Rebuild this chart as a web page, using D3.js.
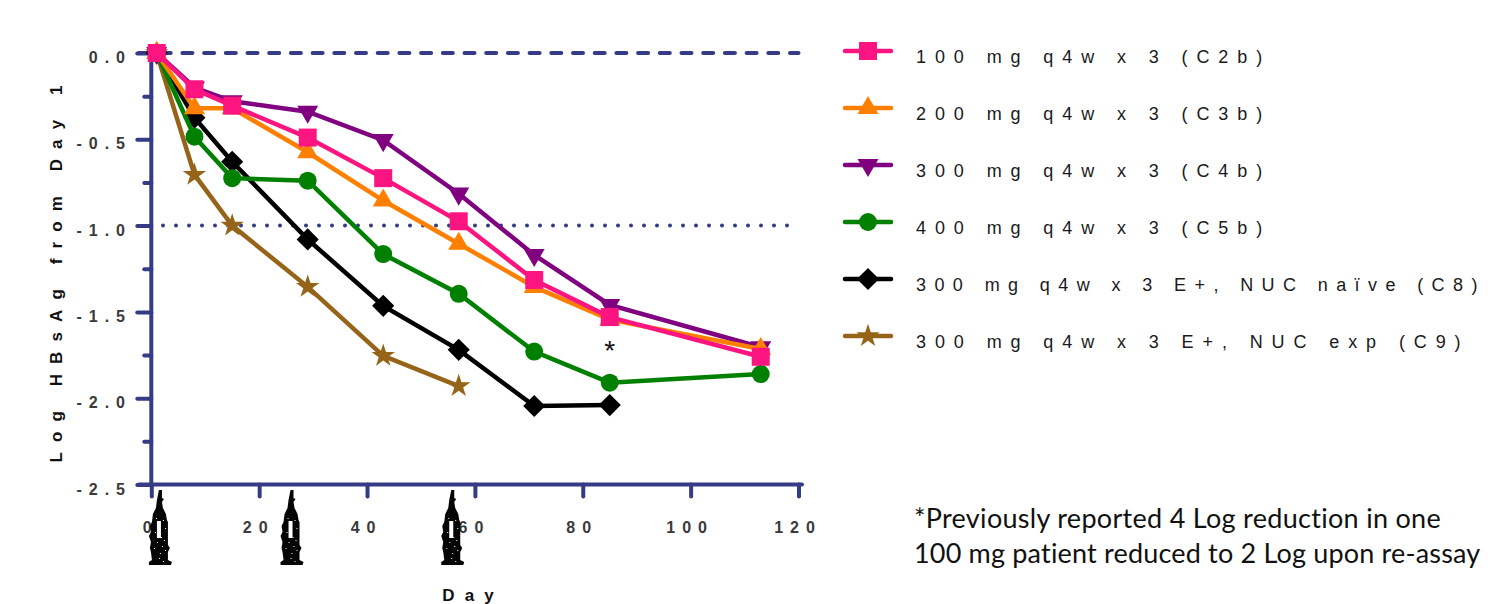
<!DOCTYPE html>
<html>
<head>
<meta charset="utf-8">
<script src="https://cdn.jsdelivr.net/npm/d3@7"></script>
<style>
  body { margin: 0; background: #fff; overflow: hidden; }
  text { font-family: "Liberation Sans", Arial, sans-serif; }
  .tick-label { font-size: 16px; font-weight: bold; fill: #3a3a3a; letter-spacing: 7px; }
  .axis-title { font-size: 17px; font-weight: bold; fill: #111; letter-spacing: 10.1px; }
  .legend-label { font-size: 18px; fill: #1a1a1a; letter-spacing: 8.9px; }
  .note { font-family: Lato, sans-serif; font-size: 27px; fill: #111; letter-spacing: 0.3px; }
</style>
</head>
<body>
<div id="chart"></div>
<script>
// values
const days = [1, 8, 15, 29, 43, 57, 71, 85, 113];
const c2b = [0, -0.21, -0.305, -0.49, -0.725, -0.975, -1.315, -1.53, -1.76];
const c3b = [0, -0.32, -0.32, -0.575, -0.855, -1.105, -1.355, -1.545, -1.715];
const c4b = [0, -0.2, -0.28, -0.34, -0.505, -0.815, -1.17, -1.46, -1.705];
const c5b = [0, -0.485, -0.725, -0.74, -1.165, -1.395, -1.73, -1.91, -1.86];
const c8 = [0, -0.375, -0.63, -1.08, -1.465, -1.72, -2.045, -2.04];
const c9 = [0, -0.705, -1.0, -1.355, -1.755, -1.93];

const seriesNames = [
  '100 mg q4w x 3 (C2b)',
  '200 mg q4w x 3 (C3b)',
  '300 mg q4w x 3 (C4b)',
  '400 mg q4w x 3 (C5b)',
  '300 mg q4w x 3 E+, NUC naïve (C8)',
  '300 mg q4w x 3 E+, NUC exp (C9)',
];
const seriesValues = [c2b, c3b, c4b, c5b, c8, c9];
const seriesColors = ['#fc1580', '#ff8000', '#800080', '#008000', '#000000', '#966418'];
const seriesMarkers = ['square', 'up', 'down', 'circle', 'diamond', 'star'];

const xTicks = [0, 20, 40, 60, 80, 100, 120];
const yTicks = [0, -0.5, -1, -1.5, -2, -2.5];
const yMinorTicks = [-0.25, -0.75, -1.25, -1.75, -2.25];
const doseDays = [1.6, 26, 55.8];
const refDashed = 0;
const refDotted = -1;
const starDay = 85;
const starValue = -1.7;

const width = 1488;
const height = 604;
const navy = '#353b84';

const x = d3.scaleLinear().domain([0, 120]).range([151.3, 798.5]);
const y = d3.scaleLinear().domain([0, -2.5]).range([53, 484.5]);

const svg = d3.select('#chart').append('svg').attr('width', width).attr('height', height);

// marker shapes
function markerPath(kind) {
  const gen = d3.symbol();
  if (kind === 'square') return gen.type(d3.symbolSquare).size(324)();
  if (kind === 'up' || kind === 'down') return gen.type(d3.symbolTriangle).size(190)();
  if (kind === 'circle') return gen.type(d3.symbolCircle).size(254)();
  if (kind === 'diamond') return gen.type(d3.symbolSquare).size(245)();
  return gen.type(d3.symbolStar).size(170)();
}
function markerRotate(kind) {
  if (kind === 'down') return 180;
  if (kind === 'diamond') return 45;
  return 0;
}

// reference lines
svg.append('line')
  .attr('x1', 139).attr('x2', x(120))
  .attr('y1', y(refDashed)).attr('y2', y(refDashed))
  .attr('stroke', navy).attr('stroke-width', 4)
  .attr('stroke-dasharray', '10 11.7').attr('stroke-linecap', 'round');
svg.append('line')
  .attr('x1', 163).attr('x2', 790)
  .attr('y1', y(refDotted)).attr('y2', y(refDotted))
  .attr('stroke', navy).attr('stroke-width', 4)
  .attr('stroke-dasharray', '0 13').attr('stroke-linecap', 'round');

// axes
const yAxis = d3.axisLeft(y).tickValues(yTicks).tickSize(14).tickFormat(() => '');
const yMinor = d3.axisLeft(y).tickValues(yMinorTicks).tickSize(7).tickFormat(() => '');
const xAxis = d3.axisBottom(x).tickValues(xTicks).tickSize(12).tickFormat(() => '');

function styleAxis(g) {
  g.select('.domain').remove();
  g.selectAll('.tick line')
    .attr('stroke', navy).attr('stroke-width', 4).attr('stroke-linecap', 'round');
}
svg.append('g').attr('transform', 'translate(151.3,0)').call(yAxis).call(styleAxis);
svg.append('g').attr('transform', 'translate(151.3,0)').call(yMinor).call(styleAxis);
svg.append('g').attr('transform', `translate(0,${y(-2.5)})`).call(xAxis).call(styleAxis);

svg.append('line')
  .attr('x1', 151.3).attr('x2', 151.3).attr('y1', 49).attr('y2', y(-2.5))
  .attr('stroke', navy).attr('stroke-width', 4).attr('stroke-linecap', 'round');
svg.append('line')
  .attr('x1', 139).attr('x2', 802).attr('y1', y(-2.5)).attr('y2', y(-2.5))
  .attr('stroke', navy).attr('stroke-width', 4).attr('stroke-linecap', 'round');

// tick labels
svg.selectAll('.ylab').data(yTicks).enter().append('text')
  .attr('class', 'tick-label')
  .attr('x', 132)
  .attr('y', (d) => y(d) + 10)
  .attr('text-anchor', 'end')
  .text((d) => d3.format('.1f')(d).replace('−', '-'));
svg.selectAll('.xlab').data(xTicks).enter().append('text')
  .attr('class', 'tick-label')
  .attr('x', (d) => x(d) - 0.5)
  .attr('y', 533)
  .attr('text-anchor', 'middle')
  .text((d) => d);

svg.append('text').attr('class', 'axis-title')
  .attr('x', 473).attr('y', 601).attr('text-anchor', 'middle').text('Day');
svg.append('text').attr('class', 'axis-title')
  .attr('transform', 'translate(62,269) rotate(-90)')
  .attr('text-anchor', 'middle').text('Log HBsAg from Day 1');

// series, last one first so C2b ends up on top
const line = d3.line().x((d) => x(d.day)).y((d) => y(d.value));
d3.range(seriesNames.length).reverse().forEach((i) => {
  const pts = seriesValues[i].map((v, j) => ({ day: days[j], value: v }));
  const g = svg.append('g');
  g.append('path').datum(pts)
    .attr('d', line)
    .attr('fill', 'none')
    .attr('stroke', seriesColors[i])
    .attr('stroke-width', 4.5);
  g.selectAll('path.mark').data(pts).enter().append('path')
    .attr('class', 'mark')
    .attr('d', markerPath(seriesMarkers[i]))
    .attr('fill', seriesColors[i])
    .attr('transform', (d) => `translate(${x(d.day)},${y(d.value)}) rotate(${markerRotate(seriesMarkers[i])})`);
});

// asterisk over day 85
svg.append('text')
  .attr('x', x(starDay)).attr('y', y(starValue) + 14)
  .attr('text-anchor', 'middle')
  .style('font-size', '28px').style('fill', '#111')
  .text('*');

// legend
const legend = svg.selectAll('.legend').data(seriesNames).enter().append('g')
  .attr('transform', (d, i) => `translate(0,${51 + i * 57})`);
legend.append('line')
  .attr('x1', 845).attr('x2', 891)
  .attr('stroke', (d, i) => seriesColors[i])
  .attr('stroke-width', 4.5).attr('stroke-linecap', 'round');
legend.append('path')
  .attr('d', (d, i) => markerPath(seriesMarkers[i]))
  .attr('fill', (d, i) => seriesColors[i])
  .attr('transform', (d, i) => `translate(868,0) rotate(${markerRotate(seriesMarkers[i])})`);
// the long C8 label gets a bit less spacing so its closing bracket stays on the page
legend.append('text')
  .attr('class', 'legend-label')
  .attr('x', 916).attr('y', 12)
  .style('letter-spacing', (d) => (d.length > 32 ? '8.4px' : null))
  .text((d) => d);

// syringes marking the dose days
const syringe = 'M-1,0 L2,0 L2,8 L4,9 L2,12 L3,18 L6,24 L7,30 L8,32 L8,55 L10,58 L8,62 L8,70 L12,72 L11,75 L-11,75 L-11,72 L-8,70 L-9,62 L-10,58 L-9,52 L-11,46 L-9,42 L-10,36 L-8,32 L-7,24 L-4,18 L-3,10 Z';
const speckX = [-4, 3, -2, 5, -5, 1, 4, -3, 2, -6, 5, 0, -1, 3];
const speckY = [28, 30, 35, 38, 42, 47, 50, 52, 56, 58, 60, 63, 68, 71];
const doses = svg.selectAll('.dose').data(doseDays).enter().append('g')
  .attr('transform', (d) => `translate(${x(d)},490)`);
doses.append('path').attr('d', syringe).attr('fill', '#050505');
doses.append('rect')
  .attr('x', -3).attr('y', 31).attr('width', 4).attr('height', 17)
  .attr('fill', '#fff');
doses.selectAll('.speck').data(speckX).enter().append('rect')
  .attr('x', (d) => d).attr('y', (d, i) => speckY[i])
  .attr('width', 1).attr('height', 1).attr('fill', '#fff');

// footnote
svg.append('text').attr('class', 'note').attr('x', 914).attr('y', 528)
  .text('*Previously reported 4 Log reduction in one');
svg.append('text').attr('class', 'note').attr('x', 914).attr('y', 563)
  .style('letter-spacing', '0.18px')
  .text('100 mg patient reduced to 2 Log upon re-assay');
</script>
</body>
</html>
